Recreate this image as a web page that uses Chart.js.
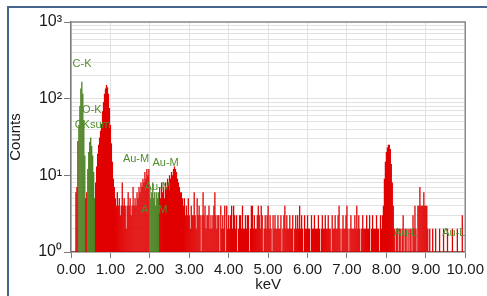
<!DOCTYPE html>
<html><head><meta charset="utf-8">
<script src="https://cdn.jsdelivr.net/npm/chart.js@4/dist/chart.umd.min.js"></script>
<style>
html,body{margin:0;padding:0;background:#fff;overflow:hidden}
#wrap{position:relative;width:487px;height:296px}
#frame{position:absolute;left:7px;top:6px;width:600px;height:400px;border-left:2px solid #47648f;border-top:2px solid #47648f;pointer-events:none}
canvas{position:absolute;left:0;top:0}
</style></head><body>
<div id="wrap"><canvas id="c" width="487" height="296"></canvas><div id="frame"></div></div>
<script>
const channelStartKeV = 0;
const channelWidthKeV = 0.025;
const countsKeV0 = [1,1,1,1,1,6,7,28,45,80,135,165,115,52,18,5,6,12,20,27,31,24,18,11,5,8,13,19,25,31,38,47,68,90,115,135,150,140,115,75];
const countsKeV1 = [45,26,15,9,7,5,4,6,4,5,3,4,8,4,5,4,2,4,6,4,5,3,4,7,4,5,4,6,5,7,6,8,7,9,8,11,9,12,10,12];
const countsKeV2 = [7,5,6,8,5,6,4,6,5,6,7,5,8,6,7,5,8,7,9,8,10,9,11,10,12,13,12,11,9,8,7,6,6,5,4,5,3,4,3,5];
const countsKeV3 = [3,2,4,3,3,6,3,2,5,3,4,3,1,3,6,3,4,2,3,3,4,2,3,2,3,4,6,3,2,3,3,1,4,2,3,2,4,1,4,2];
const countsKeV4 = [3,2,3,4,2,4,3,2,3,1,2,3,3,2,4,2,2,3,2,3,3,1,2,4,4,2,3,2,2,3,4,3,2,4,3,1,2,3,2,3];
const countsKeV5 = [4,2,3,2,1,3,2,3,2,2,3,2,2,3,1,2,3,4,2,3,2,2,3,2,2,3,1,2,3,2,3,2,4,2,3,2,1,3,2,2];
const countsKeV6 = [3,2,2,1,3,2,2,3,2,2,2,3,2,1,2,3,2,2,3,2,2,3,2,2,1,3,2,2,3,2,2,3,4,2,1,2,3,2,2,3];
const countsKeV7 = [4,2,1,2,3,2,2,2,3,2,4,2,3,2,1,2,3,2,2,2,3,2,2,3,1,2,3,2,2,2,3,2,2,1,3,2,3,4,9,15];
const countsKeV8 = [20,23,25,25,22,14,8,4,2,1,2,2,1,2,2,1,2,3,1,2,2,1,2,1,2,2,1,3,2,4,2,1,4,4,7,4,4,4,6,4];
const countsKeV9 = [4,4,2,1,2,1,1,2,1,1,2,1,1,1,2,1,1,1,2,1,1,1,2,1,1,1,1,2,1,1,1,1,2,1,1,1,1,3,1,1];
const identifiedPeakWindowsKeV = [[0.19,0.36],[0.41,0.61],[1.99,2.24]];
const peakLabels = ['C-K','O-K','CKsum','Au-M','Au-M','Au-M','Au-M','Au-L','Au-L'];
const peakLabelKeV = [0.28,0.53,0.55,1.65,2.40,2.20,2.11,8.49,9.71];
const peakLabelCounts = [283,71,45,16.3,14.5,7.0,3.5,1.77,1.77];
const decades = [1,10,100,1000];
const xAxisTitle = 'keV';
const yAxisTitle = 'Counts';

const counts = [].concat(countsKeV0,countsKeV1,countsKeV2,countsKeV3,countsKeV4,countsKeV5,countsKeV6,countsKeV7,countsKeV8,countsKeV9);
const points = counts.map((c,i)=>({x: channelStartKeV + i*channelWidthKeV, y: c}));
const RED = '#e00000', GREEN = '#4a8020', LABEL_GREEN = '#4f8d2c';
const colors = points.map(p => identifiedPeakWindowsKeV.some(w => p.x >= w[0] && p.x <= w[1]) ? GREEN : RED);
const supers = ['\u2070','\u00b9','\u00b2','\u00b3'];
const FONT = "'Liberation Sans', Arial, sans-serif";
const yGrid = [];
decades.slice(0,-1).forEach(d => { for (let k=1;k<10;k++) yGrid.push(d*k); });
yGrid.push(decades[decades.length-1]);

const framePlugin = {
  id:'frame',
  afterDatasetsDraw(chart){
    const {ctx, chartArea:a, scales:{x,y}} = chart;
    ctx.save();
    ctx.beginPath(); ctx.rect(a.left,a.top,a.right-a.left+1,a.bottom-a.top); ctx.clip();
    ctx.font = "11px " + FONT; ctx.fillStyle = LABEL_GREEN; ctx.textAlign='center'; ctx.textBaseline='middle';
    peakLabels.forEach((t,i)=>ctx.fillText(t, x.getPixelForValue(peakLabelKeV[i]), y.getPixelForValue(peakLabelCounts[i])));
    ctx.restore();
    ctx.save();
    ctx.strokeStyle='#8a8a8a'; ctx.lineWidth=1.5;
    ctx.beginPath(); ctx.moveTo(a.left,a.top); ctx.lineTo(a.right,a.top); ctx.lineTo(a.right,a.bottom); ctx.stroke();
    ctx.restore();
  }
};

new Chart(document.getElementById('c'), {
  type:'bar',
  data:{datasets:[{data:points, backgroundColor:colors, borderWidth:0, barPercentage:1, categoryPercentage:1, inflateAmount:0.15}]},
  options:{
    responsive:false, animation:false,
    layout:{padding:{top:22,right:18,left:0,bottom:0}},
    plugins:{legend:{display:false}, tooltip:{enabled:false}},
    scales:{
      x:{type:'linear', min:0, max:10, offset:false,
         afterFit(s){ s.height = 44; },
         ticks:{stepSize:1, autoSkip:false, maxRotation:0, padding:3, color:'#1a1a1a', font:{size:15, family:FONT}, callback:v=>Number(v).toFixed(2)},
         grid:{offset:false, color:'#e2e2e2', tickLength:6, tickColor:'#7a7a7a'},
         border:{color:'#7a7a7a', width:1.5},
         title:{display:true, text:xAxisTitle, color:'#1a1a1a', font:{size:15, family:FONT}, padding:{top:0,bottom:2}}},
      y:{type:'logarithmic', min:1, max:1000,
         afterFit(s){ s.width = 71; },
         afterBuildTicks(s){ s.ticks = yGrid.map(v=>({value:v})); },
         ticks:{autoSkip:false, padding:2, color:'#1a1a1a', font:{size:16, family:FONT},
           callback:v=>{ const i = decades.indexOf(v); return i>=0 ? '10'+supers[i] : ''; }},
         grid:{color:'#e2e2e2', tickLength:7, tickColor:c=> decades.includes(c.tick && c.tick.value) ? '#7a7a7a' : 'rgba(0,0,0,0)'},
         border:{color:'#7a7a7a', width:1.5},
         title:{display:true, text:yAxisTitle, color:'#1a1a1a', font:{size:15, family:FONT}, padding:{top:7,bottom:0}}}
    }
  },
  plugins:[framePlugin]
});
</script></body></html>
